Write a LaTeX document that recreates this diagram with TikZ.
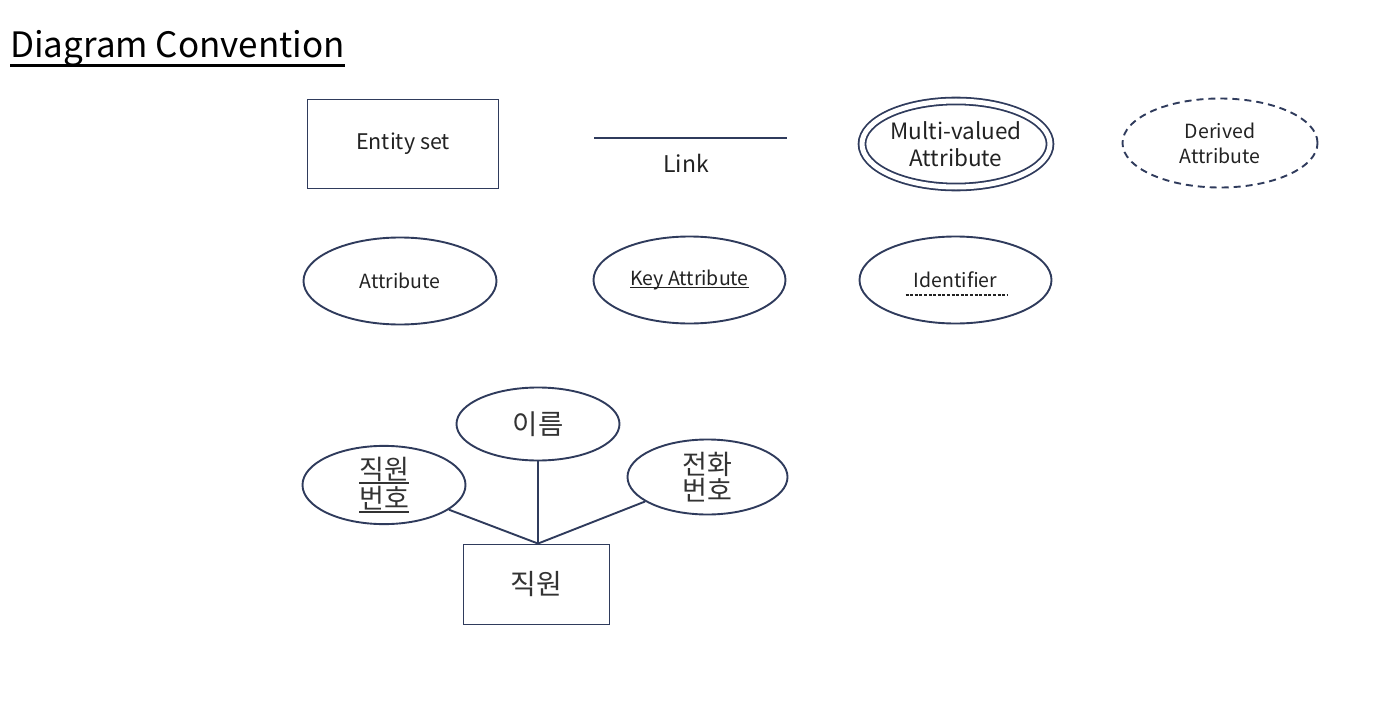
\documentclass[tikz,border=0pt]{standalone}
\usepackage{fontspec}
\setmainfont{Noto Sans CJK KR}
\usetikzlibrary{shapes.geometric}
\definecolor{edge}{RGB}{47,59,92}
\definecolor{ink}{RGB}{34,34,34}
\definecolor{kink}{RGB}{51,51,51}
\newcommand\myul[2][2.5pt]{\setbox0\hbox{#2}\rlap{\rule[-#1]{\wd0}{1.3pt}}\box0}
\begin{document}
\begin{tikzpicture}[x=1pt,y=-1pt,
  small/.style={font=\fontsize{19.5}{23}\selectfont},
  kor/.style={font=\fontsize{27.5}{29}\selectfont, text=kink},
  shp/.style={draw=edge, line width=1.9pt, text=ink, inner sep=0pt, align=center},
  entity/.style={shp, rectangle},
  attr/.style={shp, ellipse},
  conn/.style={draw=edge, line width=1.9pt},
  multi/.style={attr, double=white, double distance=5pt, line width=1.8pt},
  derived/.style={attr, dash pattern=on 7pt off 5pt},
  idline/.style={draw=ink, line width=1.4pt, dash pattern=on 3pt off 1.6pt}]
\useasboundingbox (0,0) rectangle (1394,706);

% title
\node[anchor=base west, inner sep=0pt, text=black, font=\fontsize{35}{40}\selectfont] (title) at (10,58) {Diagram Convention};
\draw[line width=3pt] ([yshift=-8pt]title.base west) -- ([yshift=-8pt]title.base east);

% legend row 1
\node[entity, font=\fontsize{21.5}{25}\selectfont, minimum width=191pt, minimum height=89pt] (es) at (403,144) {Entity set};
\coordinate (l1) at (594,138);
\coordinate (l2) at (787,138);
\draw[conn] (l1) -- (l2);
\node[font=\fontsize{23}{27}\selectfont, text=ink, inner sep=0pt] (link) at (686,163) {Link};
\node[multi, minimum width=188pt, minimum height=86pt, font=\fontsize{22.5}{27}\selectfont] (mv) at (956,144) {Multi-valued\\Attribute};
\node[derived, minimum width=195pt, minimum height=89pt, font=\fontsize{19.5}{25}\selectfont] (da) at (1220,143) {Derived\\Attribute};

% legend row 2
\node[attr, small, minimum width=193pt, minimum height=87pt] (at) at (400,281) {Attribute};
\node[attr, small, minimum width=192pt, minimum height=87pt] (ka) at (689.5,280) {\myul{Key Attribute}};
\node[attr, small, minimum width=192pt, minimum height=87pt] (id) at (955.5,280) {Identifier};
\draw[idline] ([shift={(-50,15)}]id.center) -- ([shift={(52,15)}]id.center);

% example
\node[attr, kor, minimum width=163pt, minimum height=73pt] (name) at (538,424) {이름};
\node[attr, kor, minimum width=163pt, minimum height=77pt, font=\fontsize{27}{29}\selectfont] (eid) at (384,485) {\myul[4pt]{직원}\\\myul[4pt]{번호}};
\node[attr, kor, minimum width=160pt, minimum height=75pt, font=\fontsize{27}{26}\selectfont] (tel) at (707.5,477) {전화\\번호};
\node[entity, kor, minimum width=146pt, minimum height=80pt, font=\fontsize{28}{30}\selectfont] (emp) at (536.5,584.5) {직원};
\draw[conn] (name) -- (name |- emp.north);
\draw[conn] (eid) -- (name |- emp.north);
\draw[conn] (tel) -- (name |- emp.north);
\end{tikzpicture}
\end{document}
